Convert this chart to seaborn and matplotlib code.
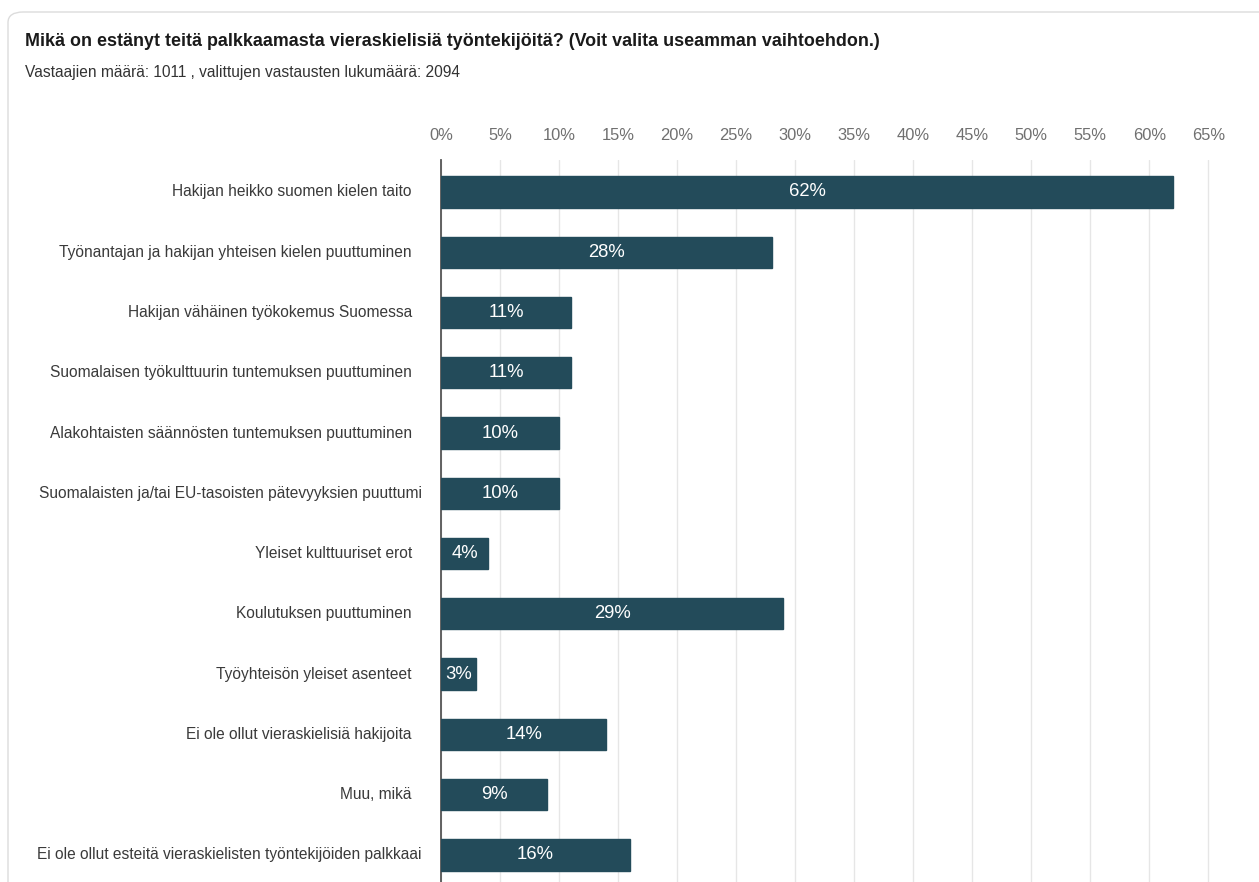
import matplotlib
matplotlib.use("Agg")
import matplotlib.pyplot as plt
import seaborn as sns
import pandas as pd
from matplotlib.patches import FancyBboxPatch

categories = [
    "Hakijan heikko suomen kielen taito",
    "Työnantajan ja hakijan yhteisen kielen puuttuminen",
    "Hakijan vähäinen työkokemus Suomessa",
    "Suomalaisen työkulttuurin tuntemuksen puuttuminen",
    "Alakohtaisten säännösten tuntemuksen puuttuminen",
    "Suomalaisten ja/tai EU-tasoisten pätevyyksien puuttumi",
    "Yleiset kulttuuriset erot",
    "Koulutuksen puuttuminen",
    "Työyhteisön yleiset asenteet",
    "Ei ole ollut vieraskielisiä hakijoita",
    "Muu, mikä",
    "Ei ole ollut esteitä vieraskielisten työntekijöiden palkkaai",
]
truncated = [False, False, False, False, False, True, False, False, False, False, False, True]
values = [62, 28, 11, 11, 10, 10, 4, 29, 3, 14, 9, 16]
xticks = list(range(0, 70, 5))
tick_labels = [f"{t}%" for t in xticks]

title = "Mikä on estänyt teitä palkkaamasta vieraskielisiä työntekijöitä? (Voit valita useamman vaihtoehdon.)"
subtitle = "Vastaajien määrä: 1011 , valittujen vastausten lukumäärä: 2094"

sns.set_theme(style="white")
plt.rcParams["font.family"] = ["Liberation Sans", "DejaVu Sans"]

W, H = 1259, 882
fig = plt.figure(figsize=(W / 100, H / 100), dpi=100)
fig.patch.set_facecolor("white")

# card border
card = FancyBboxPatch((8 / W, 1 - 900 / H), (1300 - 8) / W, (900 - 12) / H,
                      boxstyle="round,pad=0,rounding_size=0.012",
                      transform=fig.transFigure, facecolor="white",
                      edgecolor="#dcdcdc", linewidth=1.0, zorder=-10)
fig.patches.append(card)

fig.text(25 / W, 1 - 42 / H, title, fontsize=12.9, fontweight="bold",
         color="#1a1a1a", va="center", ha="left")
fig.text(25 / W, 1 - 73 / H, subtitle, fontsize=11.2, color="#333333",
         va="center", ha="left")

ax = fig.add_axes([441 / W, 0, (1232 - 441) / W, 1 - 160 / H])
ax.set_facecolor("none")
ax.set_zorder(5)

df = pd.DataFrame({"cat": categories, "val": values})
sns.barplot(data=df, x="val", y="cat", orient="h", color="#234b5a",
            saturation=1, width=0.52, ax=ax, zorder=3)

for p, v in zip(ax.patches, values):
    p.set_edgecolor("#234b5a")
    y = p.get_y() + p.get_height() / 2
    ax.text(v / 2, y, f"{v}%", color="white", fontsize=13.3, ha="center",
            va="center", zorder=4)

# category labels (truncated ones sit a little further right, as in the source)
ax.set_yticklabels([""] * len(categories))
for i, (cat, tr) in enumerate(zip(categories, truncated)):
    off = -14 if tr else -21
    ax.annotate(cat, xy=(0, i), xycoords=("axes fraction", "data"),
                xytext=(off, 0), textcoords="offset points",
                ha="right", va="center", fontsize=11.2, color="#3a3a3a",
                annotation_clip=False)

ax.set_xlim(0, 67)
ax.set_ylim(len(categories) - 1 + 0.45, -0.53)
ax.set_xticks(xticks)
ax.set_xticklabels(tick_labels)
ax.xaxis.set_ticks_position("top")
ax.tick_params(axis="x", length=0, pad=12, labelsize=11.9, labelcolor="#707070",
               labeltop=True, labelbottom=False)
ax.tick_params(axis="y", length=0)
ax.set_xlabel("")
ax.set_ylabel("")
ax.grid(axis="x", color="#e6e6e6", linewidth=1.0, zorder=0)
ax.grid(axis="y", visible=False)
for s in ["top", "right", "bottom"]:
    ax.spines[s].set_visible(False)
ax.spines["left"].set_color("#555555")
ax.spines["left"].set_linewidth(1.3)
ax.spines["left"].set_zorder(2)

fig.savefig("out.png", dpi=100, facecolor="white")
